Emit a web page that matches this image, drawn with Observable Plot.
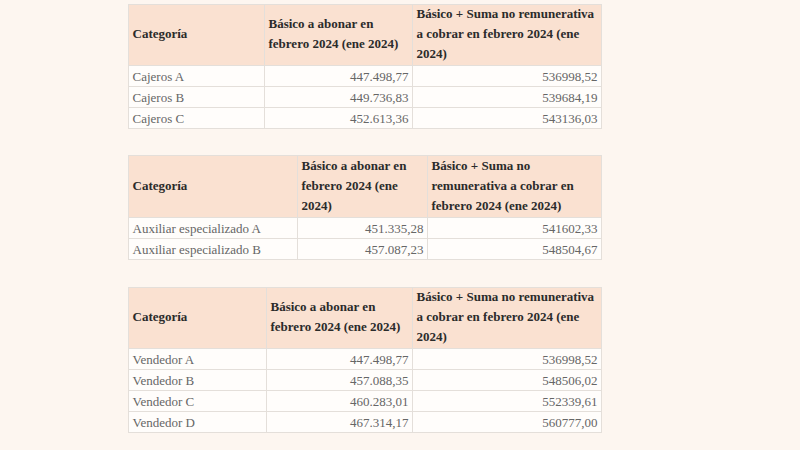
<!DOCTYPE html>
<html>
<head>
<meta charset="utf-8">
<script src="https://cdn.jsdelivr.net/npm/d3@7"></script>
<script src="https://cdn.jsdelivr.net/npm/@observablehq/plot@0.6"></script>
<style>
  html, body { margin: 0; padding: 0; background: #fdf6f0; }
  #chart svg { display: block; }
</style>
</head>
<body>
<div id="chart"></div>
<script>
// ---- Data ----
const cajerosCategorias = ["Cajeros A", "Cajeros B", "Cajeros C"];
const cajerosBasico = [447498.77, 449736.83, 452613.36];
const cajerosTotal = [536998.52, 539684.19, 543136.03];

const auxiliarCategorias = ["Auxiliar especializado A", "Auxiliar especializado B"];
const auxiliarBasico = [451335.28, 457087.23];
const auxiliarTotal = [541602.33, 548504.67];

const vendedorCategorias = ["Vendedor A", "Vendedor B", "Vendedor C", "Vendedor D"];
const vendedorBasico = [447498.77, 457088.35, 460283.01, 467314.17];
const vendedorTotal = [536998.52, 548506.02, 552339.61, 560777.00];

const headersWide = ["Categoría", "Básico a abonar en\nfebrero 2024 (ene 2024)", "Básico + Suma no remunerativa\na cobrar en febrero 2024 (ene\n2024)"];
const headersNarrow = ["Categoría", "Básico a abonar en\nfebrero 2024 (ene\n2024)", "Básico + Suma no\nremunerativa a cobrar en\nfebrero 2024 (ene 2024)"];

// ---- Formatting ----
const esLocale = d3.formatLocale({decimal: ",", thousands: ".", grouping: [3]});
const fmtGrouped = esLocale.format(",.2f");
const fmtPlain = esLocale.format(".2f");

// ---- Layout ----
const tables = [
  {cats: cajerosCategorias, basico: cajerosBasico, total: cajerosTotal, headers: headersWide, top: 4, headH: 61, cols: [128, 264, 412, 601]},
  {cats: auxiliarCategorias, basico: auxiliarBasico, total: auxiliarTotal, headers: headersNarrow, top: 155, headH: 62, cols: [128, 297, 427, 601]},
  {cats: vendedorCategorias, basico: vendedorBasico, total: vendedorTotal, headers: headersWide, top: 287, headH: 61, cols: [128, 266, 412, 601]}
];
const rowH = 21;
const pad = 4;
const lineGap = 20;

const cells = [];
const headerLines = [];
for (const t of tables) {
  t.headers.forEach((h, j) => {
    const cell = {x1: t.cols[j], x2: t.cols[j + 1], y1: t.top, y2: t.top + t.headH, header: true};
    cells.push(cell);
    const lines = h.split("\n");
    const mid = (cell.y1 + cell.y2) / 2 - 1;
    lines.forEach((line, k) => {
      headerLines.push({px: cell.x1 + pad, py: mid + (k - (lines.length - 1) / 2) * lineGap, text: line});
    });
  });
  t.cats.forEach((c, i) => {
    const y1 = t.top + t.headH + i * rowH;
    const vals = [c, fmtGrouped(t.basico[i]), fmtPlain(t.total[i])];
    vals.forEach((v, j) => {
      cells.push({x1: t.cols[j], x2: t.cols[j + 1], y1, y2: y1 + rowH, header: false, text: v, align: j === 0 ? "start" : "end"});
    });
  });
}
const bodyStart = cells.filter(d => !d.header && d.align === "start");
const bodyEnd = cells.filter(d => !d.header && d.align === "end");

const chart = Plot.plot({
  width: 800,
  height: 450,
  margin: 0,
  x: {type: "identity", axis: null},
  y: {type: "identity", axis: null},
  style: {background: "#fdf6f0", fontFamily: "'Liberation Serif', serif"},
  marks: [
    Plot.rect(cells, {
      x1: d => d.x1 + 0.5, x2: d => d.x2 + 0.5, y1: d => d.y1 + 0.5, y2: d => d.y2 + 0.5,
      fill: d => d.header ? "#fae1d1" : "#fffdfb",
      stroke: "#e4dfda", strokeWidth: 1
    }),
    Plot.text(headerLines, {
      x: d => d.px, y: d => d.py,
      text: "text", textAnchor: "start", lineAnchor: "middle",
      fontSize: 13, fontWeight: "bold", fill: "#2b2b2b"
    }),
    Plot.text(bodyStart, {
      x: d => d.x1 + pad, y: d => (d.y1 + d.y2) / 2 + 1,
      text: "text", textAnchor: "start", lineAnchor: "middle",
      fontSize: 13, fill: "#666"
    }),
    Plot.text(bodyEnd, {
      x: d => d.x2 - pad, y: d => (d.y1 + d.y2) / 2 + 1,
      text: "text", textAnchor: "end", lineAnchor: "middle",
      fontSize: 13, fill: "#666"
    })
  ]
});
document.getElementById("chart").append(chart);
</script>
</body>
</html>
